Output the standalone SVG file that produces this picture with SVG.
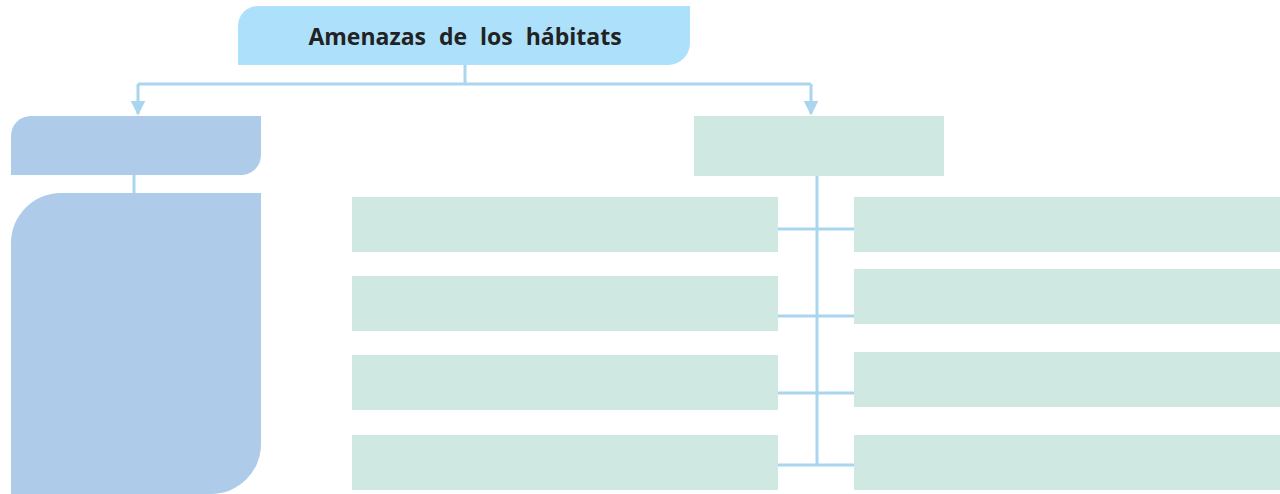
<svg xmlns="http://www.w3.org/2000/svg" width="1280" height="494" viewBox="0 0 1280 494">
<defs>
<style>
.ln{stroke:#a9d5ee;stroke-width:3;fill:none}
.g{fill:#cfe8e2}
.b{fill:#aecbe9}
.t{font-family:"Open Sans","DejaVu Sans",sans-serif;font-weight:bold;font-size:23px;fill:#222;word-spacing:7px}
</style>
<marker id="ar" viewBox="0 0 10 10" refX="9" refY="5" markerWidth="5" markerHeight="5" orient="auto" markerUnits="strokeWidth">
<path d="M0,0 L10,5 L0,10 z" fill="#a9d5ee"/>
</marker>
</defs>
<rect width="1280" height="494" fill="#fff"/>
<g id="connectors">
<path class="ln" d="M465,65 V84"/>
<path class="ln" d="M138,84 H811"/>
<path class="ln" d="M138,84 V114" marker-end="url(#ar)"/>
<path class="ln" d="M811,84 V114" marker-end="url(#ar)"/>
<path class="ln" d="M134,175 V193"/>
<path class="ln" d="M817,176 V465"/>
<path class="ln" d="M778,229 H854"/>
<path class="ln" d="M778,316 H854"/>
<path class="ln" d="M778,393 H854"/>
<path class="ln" d="M778,465 H854"/>
</g>
<g id="title">
<path d="M258,6 H690 V43 A22,22 0 0 1 668,65 H238 V26 A20,20 0 0 1 258,6 Z" fill="#ade0fa"/>
<text class="t" x="465" y="45" text-anchor="middle">Amenazas de los hábitats</text>
</g>
<g id="left-head">
<path class="b" d="M31,116 H261 V155 A20,20 0 0 1 241,175 H11 V136 A20,20 0 0 1 31,116 Z"/>
</g>
<g id="left-body">
<path class="b" d="M61,193 H261 V444 A50,50 0 0 1 211,494 H11 V243 A50,50 0 0 1 61,193 Z"/>
</g>
<g id="right-head"><rect class="g" x="694" y="116" width="250" height="60"/></g>
<g id="l1"><rect class="g" x="352" y="197" width="426" height="55"/></g>
<g id="l2"><rect class="g" x="352" y="276" width="426" height="55"/></g>
<g id="l3"><rect class="g" x="352" y="355" width="426" height="55"/></g>
<g id="l4"><rect class="g" x="352" y="435" width="426" height="55"/></g>
<g id="r1"><rect class="g" x="854" y="197" width="426" height="55"/></g>
<g id="r2"><rect class="g" x="854" y="269" width="426" height="55"/></g>
<g id="r3"><rect class="g" x="854" y="352" width="426" height="55"/></g>
<g id="r4"><rect class="g" x="854" y="435" width="426" height="55"/></g>
</svg>
